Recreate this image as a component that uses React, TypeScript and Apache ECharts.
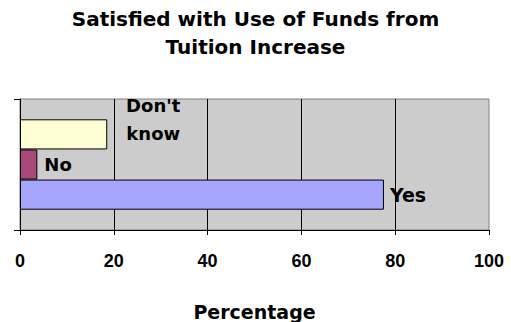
import React, { useEffect, useRef } from "react";
import * as echarts from "echarts";

const titleLines = ["Satisfied with Use of Funds from", "Tuition Increase"];
const categories = [""];
const seriesNames = ["Don't know", "No", "Yes"];
const seriesValues = [18.6, 3.7, 77.6];
const seriesColors = ["#FFFFD5", "#A8497A", "#A6A6FF"];
const xAxisName = "Percentage";

export default function App() {
  const ref = useRef<HTMLDivElement>(null);
  useEffect(() => {
    if (!ref.current) return;
    const chart = echarts.init(ref.current, null, { renderer: "svg" });
    const labelFont = { fontFamily: "DejaVu Sans", fontWeight: "bold", fontSize: 18, color: "#000" };
    const labelCfg = [
      {
        show: true,
        position: "right",
        distance: 0,
        offset: [46, -15],
        align: "center",
        verticalAlign: "middle",
        lineHeight: 28,
        formatter: "Don't\nknow",
        ...labelFont,
      },
      { show: true, position: "right", distance: 7, formatter: "No", ...labelFont },
      { show: true, position: "right", distance: 6, formatter: "Yes", ...labelFont, fontSize: 19 },
    ];
    chart.setOption({
      animation: false,
      title: {
        text: titleLines.join("\n"),
        left: "center",
        top: 5,
        padding: [0, 0, 0, 10],
        textStyle: {
          fontFamily: "DejaVu Sans",
          fontWeight: "bold",
          fontSize: 20,
          lineHeight: 28,
          color: "#000",
        },
      },
      grid: {
        left: 20,
        right: 22,
        top: 99,
        bottom: 85,
        show: true,
        backgroundColor: "#CCCCCC",
        borderColor: "#808080",
        borderWidth: 1,
      },
      xAxis: {
        type: "value",
        min: 0,
        max: 100,
        interval: 20,
        name: xAxisName,
        nameLocation: "middle",
        nameGap: 72,
        nameTextStyle: { fontFamily: "DejaVu Sans", fontWeight: "bold", fontSize: 19, color: "#000" },
        axisLine: { show: true, lineStyle: { color: "#000", width: 1 } },
        axisTick: { show: true, length: 5, lineStyle: { color: "#000" } },
        axisLabel: {
          margin: 22,
          fontFamily: "Liberation Sans",
          fontWeight: "bold",
          fontSize: 18,
          color: "#000",
        },
        splitLine: { show: true, showMinLine: false, showMaxLine: false, lineStyle: { color: "#000", width: 1 } },
      },
      yAxis: {
        type: "category",
        data: categories,
        axisLine: { show: true, lineStyle: { color: "#000", width: 1 } },
        axisTick: { show: true, length: 6, lineStyle: { color: "#000" } },
        axisLabel: { show: false },
        splitLine: { show: false },
      },
      series: seriesNames.map((name, i) => ({
        type: "bar",
        name,
        data: [seriesValues[i]],
        barGap: "0%",
        barCategoryGap: "31%",
        itemStyle: { color: seriesColors[i], borderColor: "#000", borderWidth: 1 },
        label: labelCfg[i],
      })),
    });
    return () => chart.dispose();
  }, []);
  return <div ref={ref} style={{ width: 511, height: 322, position: "absolute", left: 0, top: 0 }} />;
}
